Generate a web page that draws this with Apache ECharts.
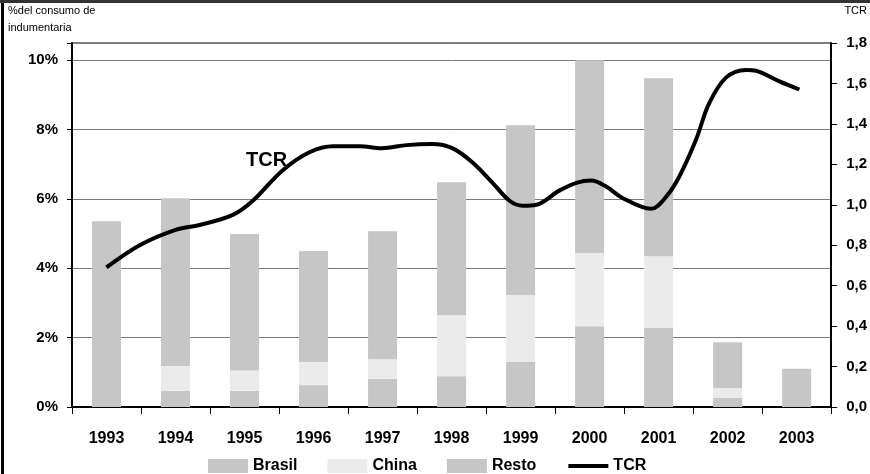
<!DOCTYPE html>
<html>
<head>
<meta charset="utf-8">
<script src="https://cdn.jsdelivr.net/npm/echarts@6/dist/echarts.min.js"></script>
<style>
html,body{margin:0;padding:0;background:#fff;}
#c{width:870px;height:474px;}
</style>
</head>
<body>
<div id="c"></div>
<script>
const years = ['1993','1994','1995','1996','1997','1998','1999','2000','2001','2002','2003'];
const brasil = [0, 0.47, 0.47, 0.63, 0.81, 0.89, 1.30, 2.33, 2.28, 0.26, 0];
const china  = [0, 0.71, 0.58, 0.67, 0.57, 1.76, 1.93, 2.11, 2.07, 0.29, 0];
const resto  = [5.36, 4.84, 3.94, 3.20, 3.69, 3.83, 4.90, 5.56, 5.13, 1.32, 1.10];
const tcrTime = [1993.0,1993.48,1993.99,1994.35,1994.83,1995.12,1995.55,1995.94,1996.28,1996.67,1996.99,1997.35,1997.72,1998.01,1998.30,1998.59,1998.84,1999.03,1999.23,1999.56,1999.82,2000.02,2000.24,2000.47,2000.89,2001.11,2001.30,2001.54,2001.73,2001.98,2002.27,2002.41,2002.75,2003.04];
const tcrValue = [0.69,0.80,0.875,0.90,0.95,1.02,1.17,1.26,1.29,1.29,1.28,1.295,1.30,1.28,1.21,1.11,1.02,0.995,1.00,1.07,1.11,1.12,1.09,1.035,0.98,1.04,1.14,1.32,1.50,1.63,1.667,1.663,1.61,1.57];
const leftTitle = ['%del consumo de', 'indumentaria'];
const rightTitle = 'TCR';

const FONT = "'Liberation Sans', Arial, sans-serif";
const barGray = '#c6c6c6';
const chinaGray = '#ebebeb';

const chart = echarts.init(document.getElementById('c'), null, {renderer:'canvas'});
chart.setOption({
  animation: false,
  backgroundColor: '#fff',
  textStyle: {fontFamily: FONT},
  grid: {left: 72, right: 38, top: 43, bottom: 67, show: true, borderColor: '#000', borderWidth: 1, backgroundColor: 'transparent'},
  legend: {
    top: 458, left: 208, itemWidth: 40, itemHeight: 14, itemGap: 30, padding: 0,
    textStyle: {fontFamily: FONT, fontWeight: 'bold', fontSize: 16, color: '#000'},
    data: [
      {name: 'Brasil', icon: 'rect'},
      {name: 'China', icon: 'rect'},
      {name: 'Resto', icon: 'rect'},
      {name: 'TCR', itemStyle: {opacity: 0}, lineStyle: {width: 4, color: '#000'}}
    ]
  },
  xAxis: [
    {
      type: 'category', data: years, boundaryGap: true,
      axisLine: {lineStyle: {color: '#000', width: 2}},
      axisTick: {show: true, interval: 0, length: 7, lineStyle: {color: '#000', width: 1}},
      axisLabel: {margin: 24, fontFamily: FONT, fontWeight: 'bold', fontSize: 16, color: '#000', interval: 0},
      splitLine: {show: false}
    },
    {
      type: 'value', min: 1992.5, max: 2003.5, show: false
    }
  ],
  yAxis: [
    {
      type: 'value', min: 0, max: 10.5, interval: 2,
      axisLine: {show: true, lineStyle: {color: '#000', width: 2}},
      axisTick: {show: true, length: 5, lineStyle: {color: '#000'}},
      axisLabel: {margin: 14, fontFamily: FONT, fontWeight: 'bold', fontSize: 15, color: '#000',
        formatter: v => (v % 2 === 0 ? v + '%' : '')},
      splitLine: {show: true, lineStyle: {color: '#7a7a7a', width: 1}}
    },
    {
      type: 'value', min: 0, max: 1.8, interval: 0.2, position: 'right',
      axisLine: {show: true, lineStyle: {color: '#000', width: 2}},
      axisTick: {show: true, length: 6, lineStyle: {color: '#000'}},
      axisLabel: {margin: 15, fontFamily: FONT, fontWeight: 'bold', fontSize: 15, color: '#000',
        formatter: v => v.toFixed(1).replace('.', ',')},
      splitLine: {show: false}
    }
  ],
  series: [
    {name: 'Brasil', type: 'bar', stack: 'a', data: brasil, barWidth: 29, itemStyle: {color: barGray}},
    {name: 'China', type: 'bar', stack: 'a', data: china, barWidth: 29, itemStyle: {color: chinaGray}},
    {name: 'Resto', type: 'bar', stack: 'a', data: resto, barWidth: 29, itemStyle: {color: barGray}},
    {name: 'TCR', type: 'line', xAxisIndex: 1, yAxisIndex: 1, smooth: 0.35, symbol: 'none',
      data: tcrTime.map((t, i) => [t, tcrValue[i]]),
      lineStyle: {color: '#000', width: 4}, itemStyle: {color: '#000'}, z: 5}
  ],
  graphic: [
    {type: 'line', shape: {x1: 2.5, y1: 0, x2: 2.5, y2: 474}, style: {stroke: '#000', lineWidth: 3}},
    {type: 'line', shape: {x1: 0, y1: 1.5, x2: 870, y2: 1.5}, style: {stroke: '#333', lineWidth: 3}},
    {type: 'text', left: 8, top: 5, style: {text: leftTitle[0], font: "11px " + FONT, fill: '#000'}},
    {type: 'text', left: 8, top: 22, style: {text: leftTitle[1], font: "11px " + FONT, fill: '#000'}},
    {type: 'text', right: 3, top: 5, style: {text: rightTitle, font: "11px " + FONT, fill: '#000'}},
    {type: 'text', left: 246, top: 150, style: {text: 'TCR', font: "bold 20px " + FONT, fill: '#000'}}
  ]
});
</script>
</body>
</html>
